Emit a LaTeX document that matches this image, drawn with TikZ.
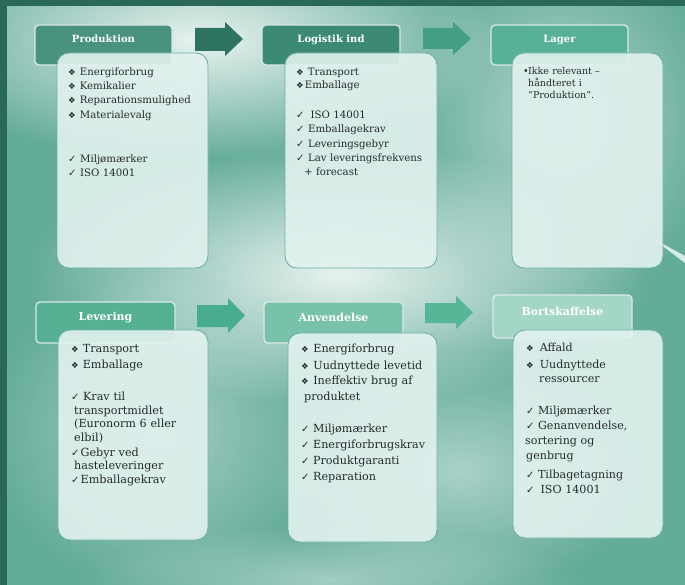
\documentclass[tikz,border=0pt]{standalone}
\usepackage{fontspec}
\setmainfont{DejaVu Serif}
\newfontfamily\symf{DejaVu Sans}
\usetikzlibrary{fadings}
\definecolor{bgc}{RGB}{100,172,154}
\definecolor{framec}{RGB}{42,104,90}
\definecolor{txtc}{RGB}{38,42,42}
\definecolor{bodyc}{RGB}{226,242,239}
\definecolor{bodyline}{RGB}{112,176,160}
\definecolor{hA}{RGB}{72,146,126}
\definecolor{hB}{RGB}{60,138,116}
\definecolor{hC}{RGB}{88,176,150}
\definecolor{hD}{RGB}{86,176,148}
\definecolor{hE}{RGB}{120,194,172}
\definecolor{hF}{RGB}{163,214,199}
\definecolor{aA}{RGB}{46,114,98}
\definecolor{aB}{RGB}{68,158,134}
\definecolor{aC}{RGB}{72,172,144}
\definecolor{aD}{RGB}{86,182,152}
\tikzfading[name=softfade, inner color=transparent!0, outer color=transparent!100]
\newcommand\dia[1][4pt]{{\symf\fontsize{8.5}{8.5}\selectfont ❖}\hspace{#1}}
\newcommand\chk[1][3.5pt]{{\symf\fontsize{10}{10}\selectfont ✓}\hspace{#1}}
\tikzset{
  hdrbox/.style={draw=white!80!hA, line width=1.3pt, rounded corners=4pt, inner sep=0pt},
  bodybox/.style={draw=bodyline, line width=0.9pt, fill=bodyc, fill opacity=0.9, rounded corners=12pt, inner sep=0pt},
  ttl/.style={text=white, font=\bfseries\fontsize{10}{12}\selectfont, inner sep=0pt},
  ttlb/.style={ttl, font=\bfseries\fontsize{11}{13}\selectfont},
  txt/.style={text=txtc, anchor=base west, align=left, inner sep=0pt, text width=140pt},
  glow/.style={fill=white, path fading=softfade}
}
\begin{document}
\begin{tikzpicture}[x=1pt,y=-1pt]
\useasboundingbox (0,0) rectangle (685,585);
% background
\fill[bgc] (0,0) rectangle (685,585);
\fill[glow, opacity=0.85] (200,40) ellipse (300 and 120);
\fill[glow, opacity=0.85] (340,275) ellipse (310 and 130);
\fill[glow, opacity=0.5] (560,120) ellipse (160 and 180);
\fill[glow, opacity=0.4] (160,430) ellipse (170 and 160);
\fill[glow, opacity=0.45] (460,470) ellipse (190 and 120);
\fill[glow, opacity=0.4] (330,580) ellipse (250 and 55);
\fill[framec] (0,0) rectangle (7,585);
\fill[framec] (0,0) rectangle (685,6);
\fill[white, opacity=0.75] (652,238) -- (685,256) -- (685,263) -- cycle;
% arrows
\fill[aA] (195,28) -- (225,28) -- (225,22) -- (243,39) -- (225,56) -- (225,51) -- (195,51) -- cycle;
\fill[aB] (423,28) -- (453,28) -- (453,22) -- (471,38.5) -- (453,55) -- (453,49) -- (423,49) -- cycle;
\fill[aC] (197,305) -- (228,305) -- (228,298) -- (245,315.5) -- (228,333) -- (228,327) -- (197,327) -- cycle;
\fill[aD] (425,303) -- (456,303) -- (456,296) -- (473,312.5) -- (456,329) -- (456,323) -- (425,323) -- cycle;
% headers
\node (h1) [hdrbox, fill=hA, minimum width=137pt, minimum height=40pt] at (103.5,45) {};
\node (h2) [hdrbox, fill=hB, minimum width=138pt, minimum height=40pt] at (331,45) {};
\node (h3) [hdrbox, fill=hC, minimum width=137pt, minimum height=40pt] at (559.5,45) {};
\node (h4) [hdrbox, fill=hD, minimum width=139pt, minimum height=41pt] at (105.5,322.5) {};
\node (h5) [hdrbox, fill=hE, minimum width=139pt, minimum height=41pt] at (333.5,322.5) {};
\node (h6) [hdrbox, fill=hF, minimum width=139pt, minimum height=43pt] at (562.5,316.5) {};
% bodies
\node (b1) [bodybox, minimum width=151pt, minimum height=215pt] at (132.5,160.5) {};
\node (b2) [bodybox, minimum width=152pt, minimum height=215pt] at (361,160.5) {};
\node (b3) [bodybox, minimum width=151pt, minimum height=215pt] at (587.5,160.5) {};
\node (b4) [bodybox, minimum width=150pt, minimum height=210pt] at (133,435) {};
\node (b5) [bodybox, minimum width=149pt, minimum height=209pt] at (362.5,437.5) {};
\node (b6) [bodybox, minimum width=150pt, minimum height=208pt] at (588,434) {};
% titles
\node (t1) [ttl] at (103.5,39) {Produktion};
\node (t2) [ttl] at (331,40) {Logistik ind};
\node (t3) [ttl] at (559.5,40) {Lager};
\node (t4) [ttlb] at (105.5,318) {Levering};
\node (t5) [ttlb] at (333.5,317) {Anvendelse};
\node (t6) [ttlb] at (562.5,311) {Bortskaffelse};
% texts
\node (x1) [txt, font=\fontsize{10.2}{14.2}\selectfont] at (68,75.5) {%
\dia Energiforbrug\\
\dia Kemikalier\\
\dia Reparationsmulighed\\
\dia Materialevalg\\[29.8pt]
\chk Miljømærker\\
\chk ISO 14001};
\node (x2) [txt, font=\fontsize{10.2}{14.2}\selectfont] at (296,75.5) {%
\dia Transport\\[-1pt]
\dia[1pt]Emballage\\[15.8pt]
\chk[6pt]ISO 14001\\
\chk Emballagekrav\\
\chk Leveringsgebyr\\
\chk Lav leveringsfrekvens\\
\hspace*{8pt}+ forecast};
\node (x3) [txt, text width=125pt, font=\fontsize{9.5}{12}\selectfont] at (523,75) {%
\makebox[5pt][l]{•}Ikke relevant –\\
\hspace*{5pt}håndteret i\\
\hspace*{5pt}“Produktion”.};
\node (x4) [txt, font=\fontsize{11.2}{13.7}\selectfont] at (71,352) {%
\dia Transport\\[3pt]
\dia Emballage\\[18pt]
\chk Krav til\\
\hspace*{3pt}transportmidlet\\
\hspace*{3pt}(Euronorm 6 eller\\
\hspace*{3pt}elbil)\\[1pt]
\chk[1pt]Gebyr ved\\
\hspace*{3pt}hasteleveringer\\
\chk[1pt]Emballagekrav};
\node (x5) [txt, font=\fontsize{11.2}{16}\selectfont] at (301,352) {%
\dia[4.5pt]Energiforbrug\\[1pt]
\dia[4.5pt]Uudnyttede levetid\\[-1pt]
\dia[4.5pt]Ineffektiv brug af\\
\hspace*{3pt}produktet\\[16pt]
\chk Miljømærker\\
\chk Energiforbrugskrav\\
\chk Produktgaranti\\
\chk Reparation};
\node (x6) [txt, font=\fontsize{11.1}{15}\selectfont] at (526,351) {%
\dia[6pt]Affald\\[2pt]
\dia[6pt]Uudnyttede\\[-1pt]
\hspace*{13pt}ressourcer\\[17pt]
\chk Miljømærker\\
\chk Genanvendelse,\\
\hspace*{-1pt}sortering og\\
genbrug\\[4pt]
\chk Tilbagetagning\\
\chk[6pt]ISO 14001};
\end{tikzpicture}
\end{document}
